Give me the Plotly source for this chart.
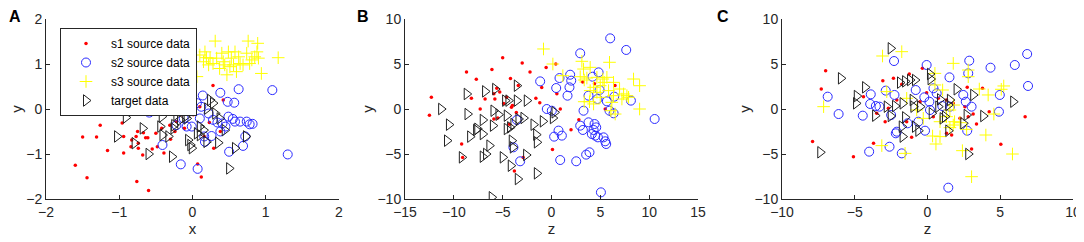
import plotly.graph_objects as go

# ---------------- Panel A data ----------------
a_s1_x = [-1.60, -1.44, -1.50, -1.31, -1.26, -1.26, -1.16, -0.98, -0.96, -0.94, -0.94, -0.76, -0.60, -0.83, -0.75,
          -0.77, -0.74, -0.67, -0.64, -0.61, -0.74, -0.68, -0.84, -0.39, -0.48, -0.30, -0.50, -0.31, -0.15, -0.11,
          0.07, 0.12, 0.28, 0.23, 0.29, 0.16, 0.01, -0.24, -0.55, -0.42, 0.42, -0.26, 0.10, 0.38, -0.22]
a_s1_y = [-1.25, -1.53, -0.62, -0.62, -0.10, -0.36, -0.92, 0.00, -0.31, -0.61, -0.98, -1.61, -1.81, -0.69, -0.50,
          -0.61, -0.76, -0.53, -0.64, -0.64, -0.87, -1.02, -0.84, -0.98, -0.84, -0.67, -0.54, -0.36, -0.13, -0.43,
          -1.22, -1.51, 0.52, -0.30, -0.87, -0.61, -0.13, -0.50, -0.89, -0.43, 0.20, -0.06, 0.05, -0.50, -0.28]
a_s2_x = [-0.59, -0.41, -0.16, 0.07, 0.14, 0.38, 0.63, 0.48, 0.57, 1.09, 1.30, 0.50, 0.69, 0.72, 0.58, 0.49,
          0.65, 0.74, 0.82, 0.41, 0.34, 0.22, 0.16, 0.17, 0.26, -0.08, -0.22, -0.12, -0.15, -0.35, 0.06, 0.12,
          0.10, 0.38, 0.45, 0.28, -0.01, 0.78, 0.55]
a_s2_y = [-0.08, -0.80, -1.23, -1.33, 0.30, 0.36, 0.44, 0.16, 0.14, 0.42, -1.01, -0.95, -0.82, -0.61, -0.28,
          -0.17, -0.28, -0.28, -0.33, -0.32, -0.30, -0.10, -0.61, -0.73, -0.60, -0.39, -0.36, -0.21, 0.07, -0.02,
          0.13, 0.05, -0.21, -0.50, -0.39, -0.24, -0.39, -0.34, -0.22]
a_s3_x = [0.31, 0.76, 0.89, 1.17, 0.94, 0.47, 0.10, 0.17, 0.22, 0.28, 0.33, 0.40, 0.42, 0.44, 0.49, 0.51, 0.56,
          0.58, 0.60, 0.65, 0.69, 0.74, 0.78, 0.85, 0.88, 0.90, 0.81, 0.24, 0.15, 0.19, 0.53, 0.06, 0.63, 0.37]
a_s3_y = [1.51, 1.51, 1.46, 1.14, 0.79, 0.76, 1.20, 1.27, 0.98, 1.01, 1.13, 1.24, 1.05, 0.98, 1.27, 0.94, 0.98,
          1.27, 0.83, 1.01, 0.98, 1.24, 1.01, 1.16, 1.27, 1.13, 1.09, 1.13, 1.05, 1.14, 1.13, 0.72, 1.16, 0.90]
a_t_x = [-1.03, -0.91, -0.79, -0.72, -0.68, -0.60, -0.28, -0.42, -0.44, -0.41, -0.31, -0.22, -0.17, -0.08, -0.03,
         -0.06, -0.03, -0.01, 0.10, 0.15, 0.19, 0.24, 0.28, 0.20, 0.31, 0.37, 0.44, 0.35, 0.58, 0.73, 0.50, -0.26,
         -0.33, 0.10, -0.13, 0.06, -0.25, -0.10]
a_t_y = [-0.61, -0.19, -0.76, 0.01, -0.43, -1.00, -1.06, -0.17, -0.39, -0.58, 0.05, -0.13, -0.24, -0.21, 0.01,
         -0.69, -0.80, -0.87, -0.39, -0.47, -0.73, 0.20, 0.13, 0.01, -0.10, -0.21, -0.47, -0.75, -0.87, -0.61,
         -1.32, -0.43, -0.61, -0.58, -0.02, -0.54, -0.36, -0.17]

# ---------------- Panel B data ----------------
b_s1_x = [-12.5, -12.3, -8.7, -8.2, -7.7, -7.3, -9.2, -6.1, -5.0, -3.0, -2.2, -4.2, -5.6, -5.9, -5.3, -5.8, -4.6,
          -4.0, -4.9, -3.4, -1.6, -1.2, -1.0, -0.55, 0.44, 0.9, 0.55, 0.1, 2.0, 2.8, 3.2, 4.4, 6.5, 5.5, -3.8,
          -2.9, -4.3, -5.9, -9.1, -6.8, -5.5, -4.1, -3.6]
b_s1_y = [-0.7, 1.3, 4.1, 1.2, 3.3, 0.0, -3.9, 4.4, 5.7, 5.1, 4.1, 3.4, 2.3, 1.7, 1.9, 1.1, 1.3, 0.4, 0.6, 2.6,
          1.2, 0.7, 2.4, 4.6, 5.0, 0.0, 1.7, -4.5, -2.3, -1.2, 3.0, 2.8, 2.6, 0.0, -6.9, -5.4, -1.7, -1.1, -5.4,
          1.1, -1.0, 0.2, -0.4]
b_s2_x = [-1.16, 0.82, 0.48, -0.48, 0.03, 0.27, 0.72, 1.06, 0.89, 2.53, -3.21, -3.9, -3.55, 1.91, 2.02, 1.84,
          1.64, 2.94, 3.28, 3.79, 4.2, 4.82, 4.92, 4.71, 5.67, 6.42, 5.94, 6.36, 6.01, 7.65, 8.13, 10.56, 2.94,
          3.21, 3.79, 4.41, 4.31, 4.13, 4.48, 4.75, 5.33, 5.5, 5.6, 3.55, 3.89, 5.06, 4.58]
b_s2_y = [3.07, 3.44, 2.33, 0.0, -0.19, -3.07, -2.4, -2.96, -5.67, -5.81, -5.81, -4.26, -1.22, 3.81, 3.15, 2.41,
          1.48, 6.19, -0.19, 1.48, 3.59, 4.07, 2.11, 1.11, 0.85, 1.37, -0.19, -0.48, 7.85, 6.56, 0.93, -1.11,
          -1.85, -2.33, -1.48, -1.67, -2.33, -2.78, -2.96, -3.15, -3.15, -3.59, -3.89, -5.07, -4.81, -9.26, -2.04]
b_s3_x = [-0.82, 0.14, 3.11, 5.94, 3.28, 3.96, 2.94, 3.35, 3.62, 5.26, 5.67, 5.4, 6.35, 6.97, 7.38, 7.72, 8.4,
          9.02, 9.02, 7.89, 7.21, 6.35, 5.84, 4.99, 4.65, 4.31, 3.89, 3.35, 4.99, 6.18, 6.08, 6.52, 4.31, 3.96,
          4.65, 1.16]
b_s3_y = [6.67, 5.0, 5.3, 5.19, 4.44, 4.63, 3.59, 3.22, 3.44, 3.33, 3.52, 2.96, 2.96, 2.22, 1.67, 1.48, 3.33,
          2.59, 0.0, 1.3, 1.11, 1.48, 2.04, 1.3, 1.85, 0.56, 0.81, 0.81, 2.59, 0.74, -0.19, -0.56, 2.41, 2.04,
          3.52, 3.7]
b_t_x = [-11.3, -10.5, -10.7, -8.68, -8.6, -8.33, -9.18, -7.72, -7.6, -7.04, -7.04, -7.04, -6.8, -6.7, -6.36,
         -6.0, -5.94, -5.77, -5.43, -4.99, -4.58, -4.58, -4.41, -4.17, -4.07, -3.96, -3.9, -3.55, -3.55, -3.45,
         -3.38, -2.87, -2.53, -2.6, -1.84, -1.57, -1.5, -1.5, -0.89, 0.14, 0.31, -6.12, -4.24, -4.75]
b_t_y = [0.0, -1.74, -3.52, 1.67, -0.56, -3.07, -5.37, -2.33, -2.2, -2.78, -1.22, -5.3, 1.96, -5.0, -4.07,
         -1.85, -0.19, 2.22, -0.63, -5.37, -0.74, -2.22, 0.93, -6.3, -3.52, -4.26, -1.67, 0.93, 2.59, -7.78,
         -1.11, -1.0, 0.93, -5.11, -1.74, -2.85, -3.7, -7.15, -1.37, -1.0, -0.37, -9.81, -2.04, 0.93]

# ---------------- Panel C data ----------------
c_s1_x = [-7.9, -7.0, -7.3, -5.09, -3.71, -3.07, -2.34, -1.25, -0.35, -2.91, -1.77, -1.09, -0.51, 0.74, 1.31,
          1.66, 2.8, 3.14, 3.37, 3.03, 3.78, 4.24, 5.04, 6.71, 2.73, 2.23, 1.31, -0.06, -2.11, -2.69, -4.4,
          -1.43, -3.49, 0.4, 1.77, 2.57]
c_s1_y = [-3.6, 4.26, 2.22, -5.3, -3.81, 3.15, 3.41, 3.89, 4.52, -1.41, 2.74, -3.15, 0.81, 1.19, -2.7, -2.89,
          -0.85, -0.56, -1.67, -4.44, 2.3, -0.3, -3.93, -0.85, 2.41, -1.04, 1.0, 1.81, 1.0, 0.07, 1.37, -1.41,
          -0.48, -0.85, 0.63, 0.26]
c_s2_x = [-6.86, -6.11, -4.45, -4.01, -3.9, -3.94, -3.55, -3.3, -2.87, -2.61, -2.3, -2.27, -2.5, -2.18, -1.77,
          -1.37, -0.81, -0.63, -0.22, -0.17, -0.06, 0.13, 0.41, 0.63, 0.17, 1.51, 1.43, 2.46, 2.63, 2.87, 2.8,
          3.03, 2.73, 4.33, 4.97, 4.91, 6.0, 6.85, 6.91, 1.54, 1.02, -2.11]
c_s2_y = [1.37, -0.56, -0.74, -4.74, 1.63, 0.56, 0.33, 0.26, 2.04, -4.19, 5.33, 1.56, -0.67, -2.7, -4.93,
          -1.59, 2.11, -1.41, 1.3, -2.41, 4.89, 0.81, 2.3, 1.74, -0.11, 3.52, -8.74, 1.56, 0.81, 5.37, 3.96,
          0.26, -2.41, 4.59, 1.56, -0.3, 4.89, 6.11, 2.56, 0.26, 0.33, -2.52]
c_s3_x = [-7.14, -3.09, -1.77, -3.14, -1.54, -2.8, -1.43, 0.51, 0.51, 1.04, 1.77, 1.8, 1.86, 1.77, 2.23, 2.8,
          2.8, 3.56, 4.17, 4.56, 5.07, 5.24, 4.01, 2.4, 3.03, 5.84, 0.35, 0.58, 0.86, 0.86, 1.31, 1.54, 2.69,
          -0.29, -0.74, 1.54]
c_s3_y = [0.26, 5.89, 6.37, -4.07, -4.93, 1.93, 1.19, 3.96, 2.67, 2.11, 5.07, 0.44, -1.41, -1.78, -1.52, 4.33,
          3.59, 2.22, 1.56, -0.56, 2.19, 2.56, -2.89, -4.63, -7.52, -5.0, -3.0, -3.89, -3.07, -1.41, -0.85,
          -0.11, -2.26, -1.04, -0.11, -2.07]
c_t_x = [-7.37, -5.95, -4.86, -4.91, -4.29, -3.6, -2.53, -2.53, -2.23, -1.89, -1.71, -1.54, -1.2, -0.86, -1.02,
         -1.54, -1.77, -1.71, -0.86, -0.63, -0.97, -0.51, 0.17, 0.21, 0.29, 0.86, 1.04, 1.2, 1.43, 1.54, 1.43,
         2.0, 2.46, 2.69, 3.14, 3.83, 2.8, 5.89, 0.74, -2.8]
c_t_y = [-4.81, 3.41, 1.44, 0.63, 2.41, -0.74, 6.74, -0.78, 0.33, 2.93, 0.63, 3.07, 3.22, 3.22, 1.0, -0.93,
         -1.96, -3.07, -1.96, -2.41, 0.26, 0.26, 3.89, 3.33, -0.48, 1.07, -1.04, -0.85, 0.44, 1.0, -2.41, 2.19,
         -1.59, -0.67, 1.56, -0.78, -5.0, 0.81, 0.26, 0.26]

# ---------------- Axis settings ----------------
a_ticks = [-2, -1, 0, 1, 2]
b_xticks = [-15, -10, -5, 0, 5, 10, 15]
bc_yticks = [-10, -5, 0, 5, 10]
c_xticks = [-10, -5, 0, 5, 10]
series_names = ["s1 source data", "s2 source data", "s3 source data", "target data"]

# page has an 8px body margin; the figure is sized so the page fits 1084x242 exactly
OFF = 8
W, H = 1084 - OFF, 242 - OFF
AX = "#262626"
FONT = "Arial, Liberation Sans, sans-serif"


def px_x(p):
    return (p - OFF) / W


def px_y(p):
    return 1 - (p - OFF) / H


fig = go.Figure()

panels = [
    ("x", "y", (a_s1_x, a_s1_y), (a_s2_x, a_s2_y), (a_s3_x, a_s3_y), (a_t_x, a_t_y), True),
    ("x2", "y2", (b_s1_x, b_s1_y), (b_s2_x, b_s2_y), (b_s3_x, b_s3_y), (b_t_x, b_t_y), False),
    ("x3", "y3", (c_s1_x, c_s1_y), (c_s2_x, c_s2_y), (c_s3_x, c_s3_y), (c_t_x, c_t_y), False),
]

styles = [
    dict(symbol="circle", size=3.5, color="#ff0000", line=dict(width=0)),
    dict(symbol="circle-open", size=9, color="#2a2aff", line=dict(width=1, color="#2a2aff")),
    dict(symbol="cross-thin-open", size=9, color="#ffff00", line=dict(width=1, color="#ffff00")),
    dict(symbol="triangle-right-open", size=10, color="#222222", line=dict(width=1, color="#222222")),
]

for xa, ya, s1, s2, s3, t, show in panels:
    for (xs, ys), name, st in zip([s1, s2, s3, t], series_names, styles):
        fig.add_trace(go.Scatter(x=xs, y=ys, mode="markers", name=name, xaxis=xa, yaxis=ya,
                                 marker=st, showlegend=show, hoverinfo="skip"))

ydom = [px_y(199), px_y(19)]
common = dict(showline=True, linecolor=AX, linewidth=1, ticks="inside", ticklen=4, tickcolor=AX,
              showgrid=False, zeroline=False, mirror=False, automargin=False,
              tickfont=dict(family=FONT, size=14, color=AX),
              title_font=dict(family=FONT, size=15, color=AX))

fig.update_layout(
    template="none",
    width=W, height=H, margin=dict(l=0, r=0, t=0, b=0, autoexpand=False),
    paper_bgcolor="white", plot_bgcolor="white",
    font=dict(family=FONT, color=AX),
    xaxis=dict(domain=[px_x(46), px_x(339)], range=[-2, 2], tickvals=a_ticks, anchor="y",
               title=dict(text="x", standoff=0), **common),
    yaxis=dict(domain=ydom, range=[-2, 2], tickvals=a_ticks, anchor="x",
               title=dict(text="y", standoff=0), **common),
    xaxis2=dict(domain=[px_x(405), px_x(698)], range=[-15, 15], tickvals=b_xticks, anchor="y2",
                title=dict(text="z", standoff=0), **common),
    yaxis2=dict(domain=ydom, range=[-10, 10], tickvals=bc_yticks, anchor="x2",
                title=dict(text="y", standoff=0), **common),
    xaxis3=dict(domain=[px_x(782), px_x(1073)], range=[-10, 10], tickvals=c_xticks, anchor="y3",
                title=dict(text="z", standoff=0), **common),
    yaxis3=dict(domain=ydom, range=[-10, 10], tickvals=bc_yticks, anchor="x3",
                title=dict(text="y", standoff=0), **common),
    legend=dict(x=px_x(60), y=px_y(28), xanchor="left", yanchor="top",
                bgcolor="white", bordercolor=AX, borderwidth=1,
                font=dict(family=FONT, size=12, color="#000000"),
                itemwidth=40, tracegroupgap=0, traceorder="normal"),
)

for txt, xp in [("A", 7), ("B", 355), ("C", 715)]:
    fig.add_annotation(text="<b>%s</b>" % txt, x=px_x(xp), y=px_y(6), xref="paper", yref="paper",
                       xanchor="left", yanchor="top", showarrow=False,
                       font=dict(family=FONT, size=16, color="#000000"))

fig.write_html("out.html")
